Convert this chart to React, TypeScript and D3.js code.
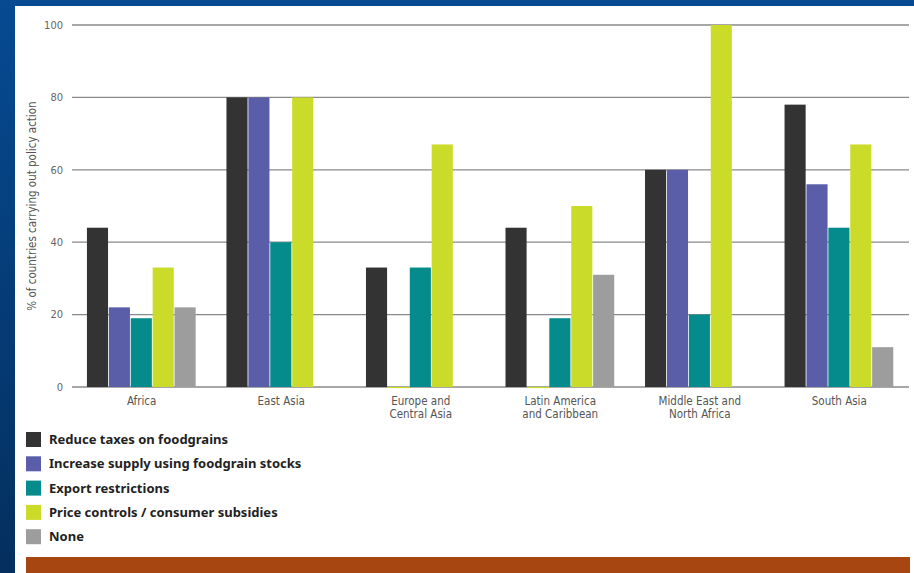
import React from "react";
import * as d3 from "d3";

const regions = [
  ["Africa"],
  ["East Asia"],
  ["Europe and", "Central Asia"],
  ["Latin America", "and Caribbean"],
  ["Middle East and", "North Africa"],
  ["South Asia"],
];
const seriesNames = [
  "Reduce taxes on foodgrains",
  "Increase supply using foodgrain stocks",
  "Export restrictions",
  "Price controls / consumer subsidies",
  "None",
];
const seriesColors = ["#333333", "#5a5ea9", "#058b8b", "#cbdb2a", "#9d9d9d"];
const reduceTaxes = [44, 80, 33, 44, 60, 78];
const increaseSupply = [22, 80, 0, 0, 60, 56];
const exportRestrictions = [19, 40, 33, 19, 20, 44];
const priceControls = [33, 80, 67, 50, 100, 67];
const none = [22, 0, 0, 31, 0, 11];
const yTicks = [0, 20, 40, 60, 80, 100];
const yLabel = "% of countries carrying out policy action";

const series = [reduceTaxes, increaseSupply, exportRestrictions, priceControls, none];

export default function App() {
  const W = 914, H = 573;
  const x0 = d3.scaleBand<number>().domain(d3.range(regions.length)).range([72, 909]).paddingInner(0.215).paddingOuter(0.107);
  const x1 = d3.scaleBand<number>().domain(d3.range(series.length)).range([0, x0.bandwidth()]);
  const y = d3.scaleLinear().domain([0, 100]).range([387, 25]);
  const tickFont = "'Liberation Sans Narrow', 'DejaVu Sans Condensed', Roboto, sans-serif";
  return (
    <svg width={W} height={H} style={{ position: "fixed", left: 0, top: 0 }}>
      <defs>
        <linearGradient id="bg" x1="0" y1="0" x2="0" y2="1">
          <stop offset="0" stopColor="#064a92" />
          <stop offset="1" stopColor="#042f5e" />
        </linearGradient>
      </defs>
      <rect x={0} y={0} width={W} height={H} fill="url(#bg)" />
      <rect x={15} y={6} width={W - 15} height={H - 6} fill="#ffffff" />
      {yTicks.map((t) => (
        <g key={t}>
          <line x1={72} x2={909} y1={y(t)} y2={y(t)} stroke="#8a8a8a" strokeWidth={1.3} />
          <text x={63} y={y(t)} dy="0.35em" textAnchor="end" fontFamily={tickFont} fontSize={11} fill="#666">
            {t}
          </text>
        </g>
      ))}
      {regions.map((r, i) => (
        <g key={i} transform={`translate(${x0(i)},0)`}>
          {series.map((s, j) =>
            s[i] > 0 ? (
              <rect key={j} x={x1(j)} y={y(s[i])} width={x1.bandwidth() - 0.8} height={y(0) - y(s[i])} fill={seriesColors[j]} />
            ) : j === 1 ? (
              <line key={j} x1={x1(j)!} x2={x1(j)! + x1.bandwidth()} y1={y(0) + 0.5} y2={y(0) + 0.5} stroke="#cbdb2a" strokeWidth={1.2} />
            ) : null
          )}
          <text x={x0.bandwidth() / 2} y={405} textAnchor="middle" fontFamily={tickFont} fontSize={11.5} fill="#555">
            {r.map((line, k) => (
              <tspan key={k} x={x0.bandwidth() / 2} dy={k === 0 ? 0 : 13}>
                {line}
              </tspan>
            ))}
          </text>
        </g>
      ))}
      <text transform={`translate(36,206) rotate(-90)`} textAnchor="middle" fontFamily={tickFont} fontSize={11.5} fill="#555">
        {yLabel}
      </text>
      {seriesNames.map((n, j) => (
        <g key={n} transform={`translate(26,${432 + j * 24.3})`}>
          <rect x={0} y={0} width={15} height={15} fill={seriesColors[j]} />
          <text x={23} y={7.5} dy="0.36em" fontFamily="'Noto Sans', sans-serif" fontWeight="bold" fontSize={13} fill="#222">
            {n}
          </text>
        </g>
      ))}
      <rect x={26} y={557} width={884} height={16} fill="#a84612" />
    </svg>
  );
}
